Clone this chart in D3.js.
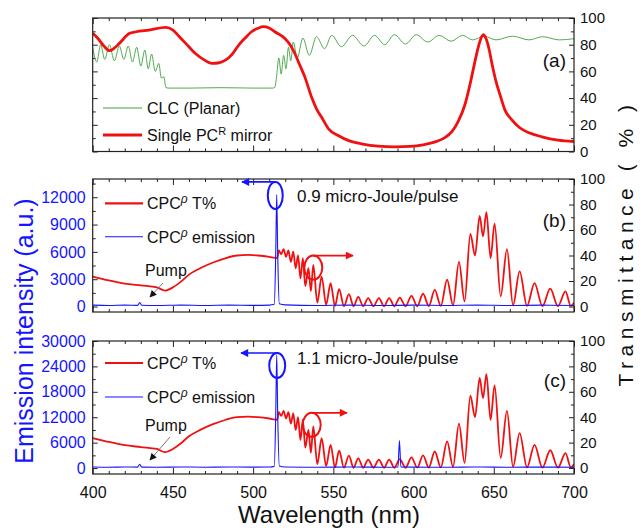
<!DOCTYPE html>
<html><head><meta charset="utf-8">
<script src="https://cdn.jsdelivr.net/npm/d3@7"></script>
<style>
html,body{margin:0;padding:0;background:#fff;}
svg{display:block;font-family:"Liberation Sans",Arial,sans-serif;}
</style></head>
<body>
<svg id="chart" width="640" height="528"></svg>
<script>
// ---------- DATA ----------
const wlMajor = [400,450,500,550,600,650,700];
const tTicks = [0,20,40,60,80,100];
const emTicksB = [0,3000,6000,9000,12000];
const emTicksC = [0,6000,12000,18000,24000,30000];

// panel (a): CLC (Planar) transmittance [nm, %]
const clcPlanar = [[400,78],[402.5,67],[405,80],[407.5,69],[410.4,80],[413.5,68],[416.6,79],[419.4,69],[422.2,79],[424.8,67],[427.4,78],[430,64],[432.5,76],[434.6,62],[436.7,73],[439,60],[441.2,66],[442.8,55],[444.4,56],[445.6,48],[447,47.5],[460,47.5],[480,47.8],[500,47.5],[512,47.5],[513.5,48],[514.5,55],[516,70],[517.5,58],[519,72],[520.5,62],[522,78],[523.5,68],[525,82],[527.5,70],[531,85],[535,72],[539.5,86],[544.5,77],[549,87],[555,78.5],[562,87],[569,79],[575.7,87],[582,80],[588,87.5],[595,80.5],[601.6,87.5],[608.8,82],[616,87],[623.4,82.6],[630.6,87],[636.8,83.6],[644,86.4],[651.4,83.6],[661.7,86.4],[672,83.6],[680.4,86],[690.8,83.6],[700,84.5]];

// panel (a): single PC^R mirror transmittance [nm, %]
const pcMirror = [[400,88.5],[403,85],[407,79],[410.4,75.5],[413,77],[416.6,81],[423,88.5],[427,89.7],[435,91],[445.6,93],[450,91],[453.6,86.5],[458,81],[464,73.4],[469,69],[474.4,66],[478,66.3],[482.7,68.4],[487,73],[491,79.7],[495,85],[499,89.7],[503,92.3],[506.3,93.5],[510,92.5],[513.5,89.7],[519.8,84.7],[523,80],[526,73.4],[529,65],[532.2,55.9],[536.4,40.8],[539.5,32],[542.6,25.8],[547,17],[553,12],[560,8],[567.5,5.8],[577.9,4],[588,3.5],[598,3.8],[606,5],[613,7],[619,10],[624,15],[628,23],[632,35],[635.5,52],[638,66],[640.5,79],[642.5,86],[643.5,87.5],[645,85],[647,77],[649,65],[651.5,52],[654,42],[657,31],[661,24],[666,18],[672,14],[680,11],[690,8.5],[700,7.5]];

// panels (b),(c): CPC^rho transmittance [nm, %]
const cpcT = [[400,23.5],[410,20.5],[420,18],[430,16.5],[440,15],[445,12.5],[450,15],[455,19.5],[460,25],[467,30],[475,34.5],[483,38],[490,40],[497,40.5],[503,40],[510,39],[515,38],[516,44],[517.5,41],[519,45],[520.5,39],[522,44],[523.5,35],[525,43],[526.5,30],[528,40],[529.5,22],[531,38],[532.5,16],[534.5,30],[536,12],[537.5,32.7],[540,3],[542.7,23.5],[545.5,1.5],[548.3,18.3],[551,0.5],[553.6,13.6],[556.6,0.3],[559.7,9.7],[562.6,0.2],[565.5,7.6],[568.6,0.2],[571.7,6.6],[575,0.2],[578.4,6.6],[581.6,0.2],[584.8,6.6],[588,0.2],[591.4,7],[595,0.2],[598.7,8.4],[602.3,0.3],[605.9,10],[609.5,0.4],[613.2,13],[617,0.5],[620.9,21],[624.6,1],[628.3,35],[631.8,4],[635.4,57],[638.3,40],[641.2,71],[643.3,55],[645.4,74],[648,38],[650.5,65],[654.3,8],[658.2,45],[662,1],[666.1,27.5],[670.7,0.5],[675.4,18.3],[680.3,0.3],[685.2,14],[690,0.3],[694.7,11.8],[698,0.5],[700,3]];

// panel (b): emission at 0.9 uJ/pulse [nm, a.u.]
const emissionB = [[400,150],[410,120],[420,160],[428,130],[429.3,450],[430.5,140],[440,110],[455,160],[470,120],[485,160],[500,130],[510,160],[513.2,250],[514.1,6000],[514.7,12300],[515.3,6000],[516.3,300],[520,180],[540,120],[560,160],[580,110],[600,150],[620,120],[640,160],[660,110],[680,150],[700,120]];

// panel (c): emission at 1.1 uJ/pulse [nm, a.u.]
const emissionC = [[400,250],[410,200],[420,250],[428,220],[429.3,900],[430.5,230],[440,200],[455,260],[470,210],[485,250],[500,220],[510,260],[513.2,400],[514.1,13000],[514.7,26700],[515.3,13000],[516.3,500],[520,250],[540,200],[560,250],[580,210],[590.3,250],[591.2,6500],[592.1,250],[600,220],[620,200],[640,250],[660,200],[680,230],[700,200]];

// ---------- LAYOUT ----------
const svg = d3.select("#chart");
const L = 92.7, R = 574;
const FONT = '"Liberation Sans",Arial,sans-serif';
const RED = "#f01010", BLUE = "#1515ff", GREEN = "#3fa03f", FRAME = "#222";

const x = d3.scaleLinear().domain([400,700]).range([L,R]);

const panels = [
  {id:"a", top:18, bot:151.5, tDom:[0,100], left:null},
  {id:"b", top:179, bot:312, tDom:[-4.3,100], eDom:[-600,14000], eTicks:emTicksB, eMinor:1500},
  {id:"c", top:341, bot:474, tDom:[-4.7,100], eDom:[-1400,30000], eTicks:emTicksC, eMinor:3000}
];
panels.forEach(p=>{
  p.yT = d3.scaleLinear().domain(p.tDom).range([p.bot,p.top]);
  if (p.eDom) p.yE = d3.scaleLinear().domain(p.eDom).range([p.bot,p.top]);
});

const defs = svg.append("defs");
function marker(id,color,w,h){
  defs.append("marker").attr("id",id).attr("viewBox","0 0 10 10").attr("refX",9).attr("refY",5)
    .attr("markerWidth",w).attr("markerHeight",h).attr("orient","auto").attr("markerUnits","userSpaceOnUse")
    .append("path").attr("d","M0,0L10,5L0,10z").attr("fill",color);
}
marker("arB",BLUE,10,8); marker("arR",RED,10,8); marker("arK","#111",8,7);

const wlMinor = d3.range(400,701,10).filter(v=>v%50!==0);
const tMinor = d3.range(10,100,20);

function styleAxis(g,color,size){
  g.select(".domain").remove();
  g.selectAll(".tick line").attr("stroke",FRAME).attr("stroke-width",1);
  g.selectAll(".tick text").attr("fill",color).attr("font-size",size).attr("font-family",FONT);
}

panels.forEach((p,i)=>{
  const g = svg.append("g");
  // x axes bottom/top
  const bx = g.append("g").attr("transform",`translate(0,${p.bot})`)
    .call(d3.axisBottom(x).tickValues(wlMajor).tickSize(-6).tickPadding(13)
      .tickFormat(p.id==="c"?d3.format("d"):""));
  styleAxis(bx,"#111","16px");
  const bxm = g.append("g").attr("transform",`translate(0,${p.bot})`)
    .call(d3.axisBottom(x).tickValues(wlMinor).tickSize(-3).tickFormat(""));
  styleAxis(bxm,"#111","16px");
  const tx = g.append("g").attr("transform",`translate(0,${p.top})`)
    .call(d3.axisTop(x).tickValues(wlMajor).tickSize(-6).tickFormat(""));
  styleAxis(tx,"#111","16px");
  const txm = g.append("g").attr("transform",`translate(0,${p.top})`)
    .call(d3.axisTop(x).tickValues(wlMinor).tickSize(-3).tickFormat(""));
  styleAxis(txm,"#111","16px");
  // right axis (transmittance)
  const ry = g.append("g").attr("transform",`translate(${R},0)`)
    .call(d3.axisRight(p.yT).tickValues(tTicks).tickSize(-5).tickPadding(6).tickFormat(d3.format("d")));
  styleAxis(ry,"#111","15px");
  const rym = g.append("g").attr("transform",`translate(${R},0)`)
    .call(d3.axisRight(p.yT).tickValues(tMinor).tickSize(-3).tickFormat(""));
  styleAxis(rym,"#111","15px");
  // left axis
  if (p.yE){
    const ly = g.append("g").attr("transform",`translate(${L},0)`)
      .call(d3.axisLeft(p.yE).tickValues(p.eTicks).tickSize(-5).tickPadding(7).tickFormat(d3.format("d")));
    styleAxis(ly,BLUE,"16px");
    const minorE = p.eTicks.map(v=>v+p.eMinor).filter(v=>v<p.eDom[1]);
    const lym = g.append("g").attr("transform",`translate(${L},0)`)
      .call(d3.axisLeft(p.yE).tickValues(minorE).tickSize(-3).tickFormat(""));
    styleAxis(lym,BLUE,"16px");
  } else {
    const ly = g.append("g").attr("transform",`translate(${L},0)`)
      .call(d3.axisLeft(p.yT).tickValues(tTicks).tickSize(-5).tickFormat(""));
    styleAxis(ly,"#111","15px");
    const lym = g.append("g").attr("transform",`translate(${L},0)`)
      .call(d3.axisLeft(p.yT).tickValues(tMinor).tickSize(-3).tickFormat(""));
    styleAxis(lym,"#111","15px");
  }
  // clip
  defs.append("clipPath").attr("id","clip"+p.id).append("rect")
    .attr("x",L).attr("y",p.top).attr("width",R-L).attr("height",p.bot-p.top);
  p.plot = g.append("g").attr("clip-path",`url(#clip${p.id})`);
  p.g = g;
});

const lineT = p => d3.line().x(d=>x(d[0])).y(d=>p.yT(d[1])).curve(d3.curveMonotoneX);
const lineE = p => d3.line().x(d=>x(d[0])).y(d=>p.yE(d[1])).curve(d3.curveMonotoneX);

// panel a
const pa = panels[0];
pa.plot.append("path").datum(clcPlanar).attr("d",lineT(pa)).attr("fill","none").attr("stroke",GREEN).attr("stroke-width",0.9);
pa.plot.append("path").datum(pcMirror).attr("d",lineT(pa)).attr("fill","none").attr("stroke",RED).attr("stroke-width",2.8);

// panels b, c
[[panels[1],emissionB],[panels[2],emissionC]].forEach(([p,em])=>{
  p.plot.append("path").datum(cpcT).attr("d",lineT(p)).attr("fill","none").attr("stroke",RED).attr("stroke-width",1.8);
  p.plot.append("path").datum(em).attr("d",lineE(p)).attr("fill","none").attr("stroke",BLUE).attr("stroke-width",1.1);
});

// frames
panels.forEach(p=>{
  svg.append("rect").attr("x",L).attr("y",p.top).attr("width",R-L).attr("height",p.bot-p.top)
    .attr("fill","none").attr("stroke",FRAME).attr("stroke-width",1.2);
});

// panel labels
[["(a)",pa,60],["(b)",panels[1],220],["(c)",panels[2],380]].forEach(([t,p,yy])=>{
  svg.append("text").attr("x",566).attr("y",yy+7).attr("text-anchor","end")
    .attr("font-size","19px").attr("fill","#111").attr("font-family",FONT).text(t);
});

// legend panel a
function legLine(y,color,w){ svg.append("line").attr("x1",103).attr("x2",142).attr("y1",y).attr("y2",y).attr("stroke",color).attr("stroke-width",w); }
legLine(108,GREEN,1); legLine(135,RED,2.8);
svg.append("text").attr("x",147).attr("y",114).attr("font-size","16px").attr("fill","#111").text("CLC (Planar)");
const t2 = svg.append("text").attr("x",147).attr("y",141).attr("font-size","16px").attr("fill","#111");
t2.append("tspan").text("Single PC");
t2.append("tspan").attr("dy",-6).attr("font-size","11px").text("R");
t2.append("tspan").attr("dy",6).text(" mirror");

// legends b, c
[[panels[1],203.3,236.7],[panels[2],363,397]].forEach(([p,y1,y2])=>{
  svg.append("line").attr("x1",105).attr("x2",143).attr("y1",y1).attr("y2",y1).attr("stroke",RED).attr("stroke-width",2.2);
  svg.append("line").attr("x1",105).attr("x2",143).attr("y1",y2).attr("y2",y2).attr("stroke",BLUE).attr("stroke-width",1.1);
  const a = svg.append("text").attr("x",147).attr("y",y1+6).attr("font-size","16px").attr("fill","#111");
  a.append("tspan").text("CPC");
  a.append("tspan").attr("dy",-6).attr("font-size","12px").attr("font-style","italic").text("ρ");
  a.append("tspan").attr("dy",6).text(" T%");
  const b = svg.append("text").attr("x",147).attr("y",y2+6).attr("font-size","16px").attr("fill","#111");
  b.append("tspan").text("CPC");
  b.append("tspan").attr("dy",-6).attr("font-size","12px").attr("font-style","italic").text("ρ");
  b.append("tspan").attr("dy",6).text(" emission");
});

// energy labels
svg.append("text").attr("x",297).attr("y",202).attr("font-size","17px").attr("fill","#111").text("0.9 micro-Joule/pulse");
svg.append("text").attr("x",297).attr("y",364).attr("font-size","17px").attr("fill","#111").text("1.1 micro-Joule/pulse");

// annotations: ellipses and arrows
function annot(p, ex, ey, erx, ery, color, ax1, ay, ax2, mk){
  svg.append("ellipse").attr("cx",ex).attr("cy",ey).attr("rx",erx).attr("ry",ery)
    .attr("fill","none").attr("stroke",color).attr("stroke-width",2);
  svg.append("line").attr("x1",ax1).attr("x2",ax2).attr("y1",ay).attr("y2",ay)
    .attr("stroke",color).attr("stroke-width",1.6).attr("marker-end",`url(#${mk})`);
}
const pb = panels[1], pc = panels[2];
annot(pb, x(513.8), pb.yE(12200), 7.5, 13.5, BLUE, x(513.8), pb.yE(12200)-13.5, 242, "arB");
annot(pb, x(537.5), pb.yT(30.5), 9, 12, RED, x(537.5), pb.yT(30.5)-12, 353, "arR");
annot(pc, x(515), pc.yE(24200), 8, 12.5, BLUE, x(515), pc.yE(24200)-12.5, 241, "arB");
annot(pc, x(536.5), pc.yT(34), 9, 12, RED, x(536.5), pc.yT(34)-12, 347, "arR");

// Pump labels
[[pb,270,163,283,150,297],[pc,425,170,437,150,460]].forEach(([p,ty,x1,y1,x2,y2])=>{
  svg.append("text").attr("x",145).attr("y",ty+6).attr("font-size","16px").attr("fill","#111").text("Pump");
  svg.append("line").attr("x1",x1).attr("y1",y1).attr("x2",x2).attr("y2",y2)
    .attr("stroke","#777").attr("stroke-width",1).attr("marker-end","url(#arK)");
});

// axis titles
svg.append("text").attr("x",329).attr("y",523).attr("text-anchor","middle").attr("font-size","24px")
  .attr("fill","#111").text("Wavelength (nm)");
svg.append("text").attr("transform","translate(33,331) rotate(-90)").attr("text-anchor","middle")
  .attr("font-size","25px").attr("fill",BLUE).text("Emission intensity (a.u.)");
svg.append("text").attr("transform","translate(633,243) rotate(-90)").attr("text-anchor","middle")
  .attr("font-size","21px").attr("letter-spacing","5.5px").attr("fill","#111").text("Transmittance ( % )");
</script>
</body></html>
